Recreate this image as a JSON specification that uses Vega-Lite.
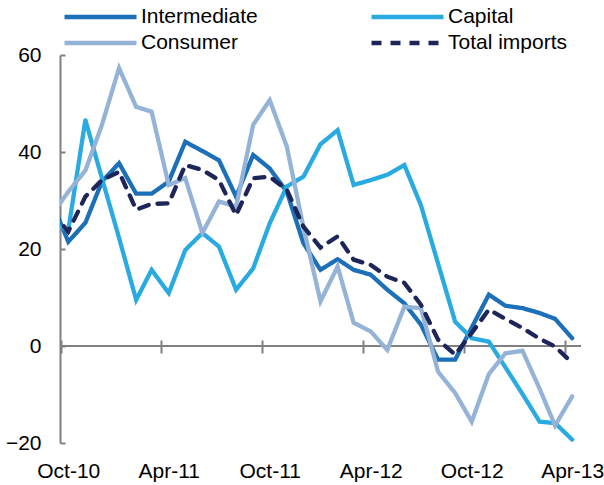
{
  "$schema": "https://vega.github.io/schema/vega-lite/v6.json",
  "width": 521,
  "height": 388,
  "autosize": "none",
  "padding": {"left": 60, "top": 55, "right": 23, "bottom": 42},
  "background": "white",
  "config": {
    "view": {"stroke": null},
    "font": "Liberation Sans",
    "legend": {
      "orient": "none",
      "legendX": 2,
      "legendY": -48.5,
      "direction": "horizontal",
      "columns": 2,
      "columnPadding": 111,
      "rowPadding": 4,
      "clipHeight": 21,
      "symbolType": "stroke",
      "symbolSize": 5184,
      "symbolStrokeWidth": 4.5,
      "labelFontSize": 21,
      "labelFont": "Liberation Sans",
      "labelColor": "#000000",
      "labelOffset": 2,
      "title": null
    }
  },
  "data": {
    "values": [
      {"date": "2010-09-01", "series": "Intermediate", "value": 29.8},
      {"date": "2010-10-01", "series": "Intermediate", "value": 21.5},
      {"date": "2010-11-01", "series": "Intermediate", "value": 25.4},
      {"date": "2010-12-01", "series": "Intermediate", "value": 33.9},
      {"date": "2011-01-01", "series": "Intermediate", "value": 37.7},
      {"date": "2011-02-01", "series": "Intermediate", "value": 31.4},
      {"date": "2011-03-01", "series": "Intermediate", "value": 31.4},
      {"date": "2011-04-01", "series": "Intermediate", "value": 33.9},
      {"date": "2011-05-01", "series": "Intermediate", "value": 42.1},
      {"date": "2011-06-01", "series": "Intermediate", "value": 40.2},
      {"date": "2011-07-01", "series": "Intermediate", "value": 38.3},
      {"date": "2011-08-01", "series": "Intermediate", "value": 30.8},
      {"date": "2011-09-01", "series": "Intermediate", "value": 39.4},
      {"date": "2011-10-01", "series": "Intermediate", "value": 36.6},
      {"date": "2011-11-01", "series": "Intermediate", "value": 31.8},
      {"date": "2011-12-01", "series": "Intermediate", "value": 21.2},
      {"date": "2012-01-01", "series": "Intermediate", "value": 15.7},
      {"date": "2012-02-01", "series": "Intermediate", "value": 17.9},
      {"date": "2012-03-01", "series": "Intermediate", "value": 15.7},
      {"date": "2012-04-01", "series": "Intermediate", "value": 14.7},
      {"date": "2012-05-01", "series": "Intermediate", "value": 11.6},
      {"date": "2012-06-01", "series": "Intermediate", "value": 8.8},
      {"date": "2012-07-01", "series": "Intermediate", "value": 4.4},
      {"date": "2012-08-01", "series": "Intermediate", "value": -2.8},
      {"date": "2012-09-01", "series": "Intermediate", "value": -2.8},
      {"date": "2012-10-01", "series": "Intermediate", "value": 3.8},
      {"date": "2012-11-01", "series": "Intermediate", "value": 10.6},
      {"date": "2012-12-01", "series": "Intermediate", "value": 8.3},
      {"date": "2013-01-01", "series": "Intermediate", "value": 7.8},
      {"date": "2013-02-01", "series": "Intermediate", "value": 6.8},
      {"date": "2013-03-01", "series": "Intermediate", "value": 5.6},
      {"date": "2013-04-01", "series": "Intermediate", "value": 1.6},

      {"date": "2010-09-01", "series": "Capital", "value": 25.3},
      {"date": "2010-10-01", "series": "Capital", "value": 23.9},
      {"date": "2010-11-01", "series": "Capital", "value": 46.6},
      {"date": "2010-12-01", "series": "Capital", "value": 34.6},
      {"date": "2011-01-01", "series": "Capital", "value": 22.3},
      {"date": "2011-02-01", "series": "Capital", "value": 9.5},
      {"date": "2011-03-01", "series": "Capital", "value": 15.7},
      {"date": "2011-04-01", "series": "Capital", "value": 10.9},
      {"date": "2011-05-01", "series": "Capital", "value": 19.8},
      {"date": "2011-06-01", "series": "Capital", "value": 23.3},
      {"date": "2011-07-01", "series": "Capital", "value": 20.5},
      {"date": "2011-08-01", "series": "Capital", "value": 11.6},
      {"date": "2011-09-01", "series": "Capital", "value": 16.0},
      {"date": "2011-10-01", "series": "Capital", "value": 25.3},
      {"date": "2011-11-01", "series": "Capital", "value": 32.9},
      {"date": "2011-12-01", "series": "Capital", "value": 34.9},
      {"date": "2012-01-01", "series": "Capital", "value": 41.6},
      {"date": "2012-02-01", "series": "Capital", "value": 44.5},
      {"date": "2012-03-01", "series": "Capital", "value": 33.2},
      {"date": "2012-04-01", "series": "Capital", "value": 34.2},
      {"date": "2012-05-01", "series": "Capital", "value": 35.3},
      {"date": "2012-06-01", "series": "Capital", "value": 37.3},
      {"date": "2012-07-01", "series": "Capital", "value": 29.0},
      {"date": "2012-08-01", "series": "Capital", "value": 17.0},
      {"date": "2012-09-01", "series": "Capital", "value": 5.0},
      {"date": "2012-10-01", "series": "Capital", "value": 1.6},
      {"date": "2012-11-01", "series": "Capital", "value": 0.9},
      {"date": "2012-12-01", "series": "Capital", "value": -4.4},
      {"date": "2013-01-01", "series": "Capital", "value": -9.9},
      {"date": "2013-02-01", "series": "Capital", "value": -15.6},
      {"date": "2013-03-01", "series": "Capital", "value": -15.9},
      {"date": "2013-04-01", "series": "Capital", "value": -19.3},

      {"date": "2010-09-01", "series": "Consumer", "value": 27.0},
      {"date": "2010-10-01", "series": "Consumer", "value": 31.8},
      {"date": "2010-11-01", "series": "Consumer", "value": 36.2},
      {"date": "2010-12-01", "series": "Consumer", "value": 45.6},
      {"date": "2011-01-01", "series": "Consumer", "value": 57.3},
      {"date": "2011-02-01", "series": "Consumer", "value": 49.3},
      {"date": "2011-03-01", "series": "Consumer", "value": 48.3},
      {"date": "2011-04-01", "series": "Consumer", "value": 33.2},
      {"date": "2011-05-01", "series": "Consumer", "value": 34.6},
      {"date": "2011-06-01", "series": "Consumer", "value": 23.3},
      {"date": "2011-07-01", "series": "Consumer", "value": 29.8},
      {"date": "2011-08-01", "series": "Consumer", "value": 28.7},
      {"date": "2011-09-01", "series": "Consumer", "value": 45.6},
      {"date": "2011-10-01", "series": "Consumer", "value": 50.7},
      {"date": "2011-11-01", "series": "Consumer", "value": 41.1},
      {"date": "2011-12-01", "series": "Consumer", "value": 24.5},
      {"date": "2012-01-01", "series": "Consumer", "value": 9.2},
      {"date": "2012-02-01", "series": "Consumer", "value": 16.4},
      {"date": "2012-03-01", "series": "Consumer", "value": 4.8},
      {"date": "2012-04-01", "series": "Consumer", "value": 3.0},
      {"date": "2012-05-01", "series": "Consumer", "value": -0.8},
      {"date": "2012-06-01", "series": "Consumer", "value": 8.1},
      {"date": "2012-07-01", "series": "Consumer", "value": 7.8},
      {"date": "2012-08-01", "series": "Consumer", "value": -5.3},
      {"date": "2012-09-01", "series": "Consumer", "value": -9.7},
      {"date": "2012-10-01", "series": "Consumer", "value": -15.6},
      {"date": "2012-11-01", "series": "Consumer", "value": -5.8},
      {"date": "2012-12-01", "series": "Consumer", "value": -1.5},
      {"date": "2013-01-01", "series": "Consumer", "value": -1.0},
      {"date": "2013-02-01", "series": "Consumer", "value": -8.8},
      {"date": "2013-03-01", "series": "Consumer", "value": -16.4},
      {"date": "2013-04-01", "series": "Consumer", "value": -10.4},

      {"date": "2010-09-01", "series": "Total imports", "value": 27.7},
      {"date": "2010-10-01", "series": "Total imports", "value": 23.6},
      {"date": "2010-11-01", "series": "Total imports", "value": 30.8},
      {"date": "2010-12-01", "series": "Total imports", "value": 34.2},
      {"date": "2011-01-01", "series": "Total imports", "value": 35.9},
      {"date": "2011-02-01", "series": "Total imports", "value": 28.1},
      {"date": "2011-03-01", "series": "Total imports", "value": 29.3},
      {"date": "2011-04-01", "series": "Total imports", "value": 29.4},
      {"date": "2011-05-01", "series": "Total imports", "value": 37.3},
      {"date": "2011-06-01", "series": "Total imports", "value": 36.3},
      {"date": "2011-07-01", "series": "Total imports", "value": 34.2},
      {"date": "2011-08-01", "series": "Total imports", "value": 27.0},
      {"date": "2011-09-01", "series": "Total imports", "value": 34.6},
      {"date": "2011-10-01", "series": "Total imports", "value": 34.9},
      {"date": "2011-11-01", "series": "Total imports", "value": 32.2},
      {"date": "2011-12-01", "series": "Total imports", "value": 24.6},
      {"date": "2012-01-01", "series": "Total imports", "value": 20.3},
      {"date": "2012-02-01", "series": "Total imports", "value": 22.6},
      {"date": "2012-03-01", "series": "Total imports", "value": 17.8},
      {"date": "2012-04-01", "series": "Total imports", "value": 16.7},
      {"date": "2012-05-01", "series": "Total imports", "value": 14.3},
      {"date": "2012-06-01", "series": "Total imports", "value": 13.0},
      {"date": "2012-07-01", "series": "Total imports", "value": 8.5},
      {"date": "2012-08-01", "series": "Total imports", "value": 1.3},
      {"date": "2012-09-01", "series": "Total imports", "value": -1.8},
      {"date": "2012-10-01", "series": "Total imports", "value": 2.7},
      {"date": "2012-11-01", "series": "Total imports", "value": 7.5},
      {"date": "2012-12-01", "series": "Total imports", "value": 5.6},
      {"date": "2013-01-01", "series": "Total imports", "value": 3.7},
      {"date": "2013-02-01", "series": "Total imports", "value": 1.5},
      {"date": "2013-03-01", "series": "Total imports", "value": -0.1},
      {"date": "2013-04-01", "series": "Total imports", "value": -3.5}
    ]
  },
  "layer": [
    {
      "mark": {"type": "rule", "color": "#808080", "strokeWidth": 2},
      "encoding": {"y": {"datum": 0, "type": "quantitative"}}
    },
    {
      "mark": {"type": "line", "strokeWidth": 4.3, "strokeCap": "round", "strokeJoin": "miter", "clip": true},
      "encoding": {
        "x": {
          "field": "date",
          "type": "temporal",
          "scale": {
            "type": "utc",
            "domain": [
              {"year": 2010, "month": 9, "date": 16, "utc": true},
              {"year": 2013, "month": 4, "date": 17, "utc": true}
            ]
          },
          "axis": {
            "title": null,
            "grid": false,
            "domain": false,
            "values": [
              {"year": 2010, "month": 10, "date": 1, "utc": true},
              {"year": 2011, "month": 4, "date": 1, "utc": true},
              {"year": 2011, "month": 10, "date": 1, "utc": true},
              {"year": 2012, "month": 4, "date": 1, "utc": true},
              {"year": 2012, "month": 10, "date": 1, "utc": true},
              {"year": 2013, "month": 4, "date": 1, "utc": true}
            ],
            "labelExpr": "utcFormat(datum.value, '%b-%y')",
            "offset": -90,
            "tickSize": -13,
            "tickWidth": 2,
            "tickColor": "#808080",
            "tickOffset": -7.5,
            "labelOffset": 7.5,
            "labelPadding": 120,
            "labelFontSize": 21,
            "labelFont": "Liberation Sans",
            "labelColor": "#000000",
            "labelFlush": false,
            "labelOverlap": false
          }
        },
        "y": {
          "field": "value",
          "type": "quantitative",
          "scale": {"domain": [-20, 60], "nice": false, "zero": false},
          "axis": {
            "title": null,
            "grid": false,
            "values": [-20, 0, 20, 40, 60],
            "domainColor": "#808080",
            "domainWidth": 2,
            "tickColor": "#808080",
            "tickWidth": 2,
            "tickSize": -5,
            "labelPadding": 24,
            "labelFontSize": 21,
            "labelFont": "Liberation Sans",
            "labelColor": "#000000"
          }
        },
        "color": {
          "field": "series",
          "type": "nominal",
          "scale": {
            "domain": ["Intermediate", "Capital", "Consumer", "Total imports"],
            "range": ["#1b70b7", "#29aae1", "#95b3d7", "#1d2559"]
          },
          "legend": {"title": null}
        },
        "strokeDash": {
          "field": "series",
          "type": "nominal",
          "scale": {
            "domain": ["Intermediate", "Capital", "Consumer", "Total imports"],
            "range": [[1, 0], [1, 0], [1, 0], [10, 9]]
          },
          "legend": {"title": null}
        }
      }
    }
  ]
}
